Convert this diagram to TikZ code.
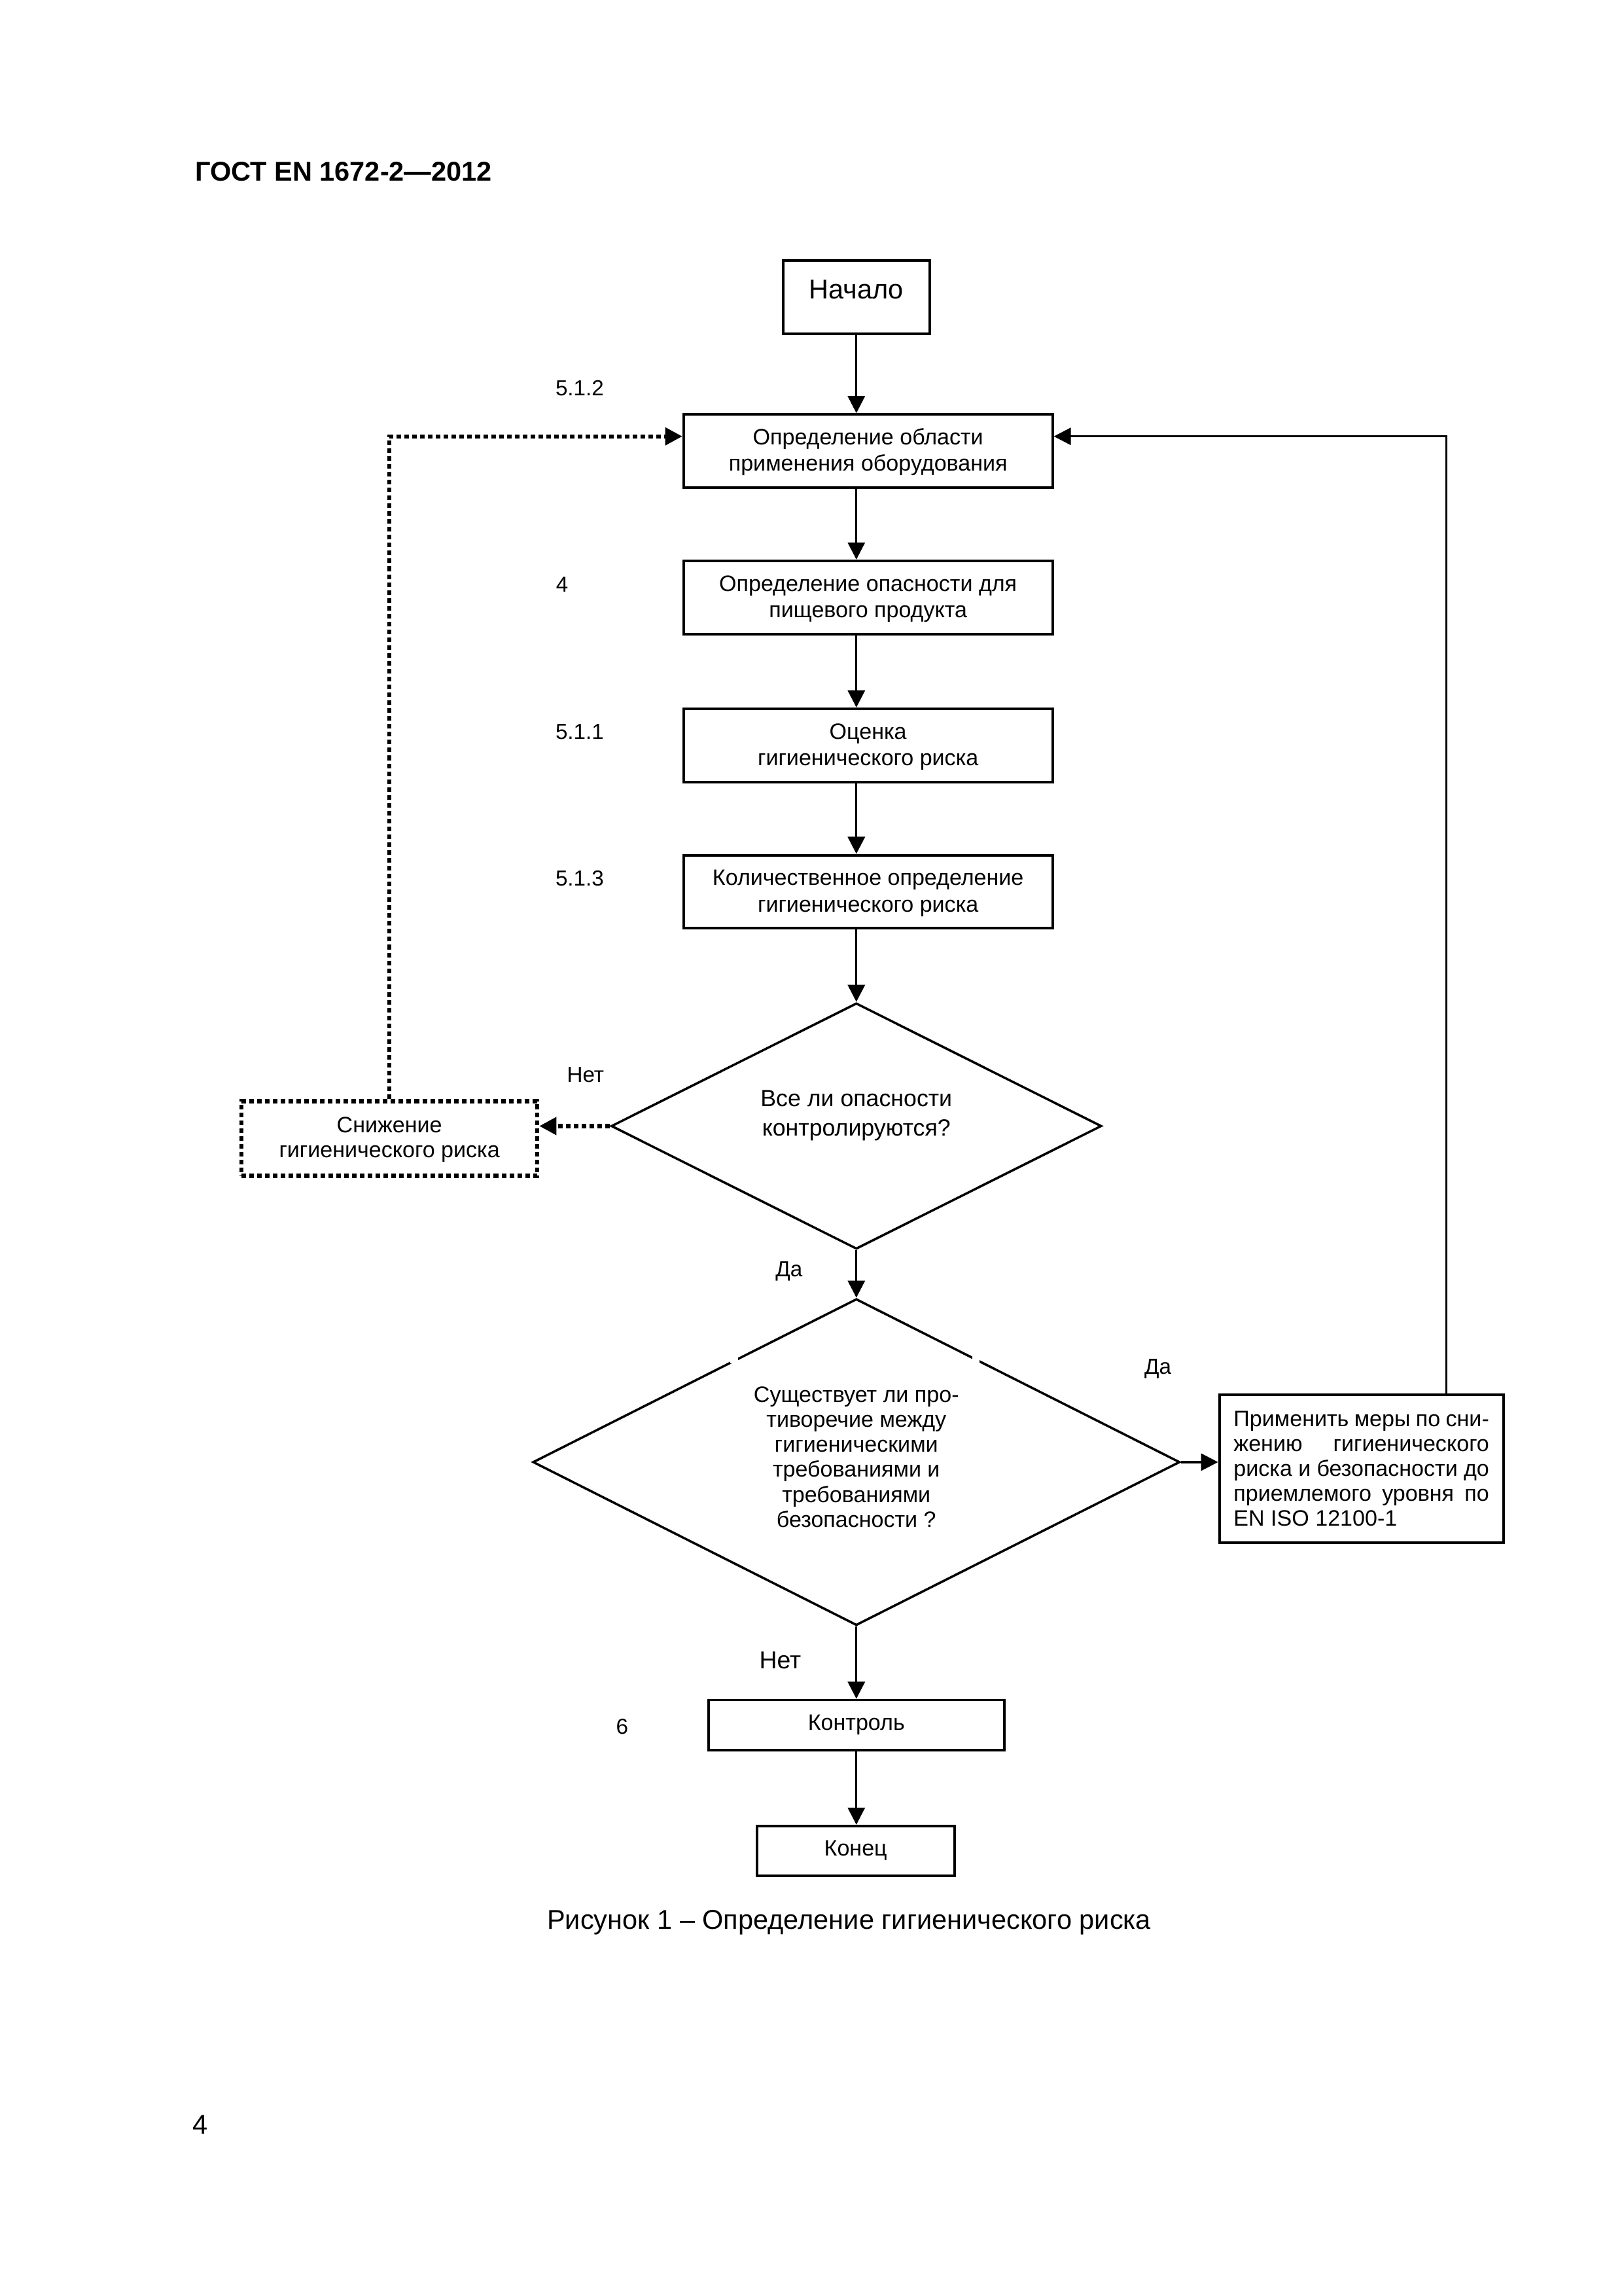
\documentclass[tikz,border=0pt]{standalone}
\usepackage{fontspec}
\setmainfont{Liberation Sans}
\usetikzlibrary{arrows.meta,shapes.geometric}
\newdimen\uu \uu=0.5388pt
\begin{document}
\begin{tikzpicture}[x=0.5388pt,y=-0.5388pt,
  box/.style={draw,line width=0.95pt,rectangle,inner sep=0pt,align=center,
    font=\fontsize{8.2}{9.7}\selectfont},
  dotbox/.style={draw,line width=1.5pt,dash pattern=on 1.7pt off 1.2pt,rectangle,inner sep=0pt,align=center,
    font=\fontsize{8.2}{9.2}\selectfont},
  dia/.style={draw,line width=0.85pt,diamond,inner sep=0pt},
  lbl/.style={inner sep=0pt,font=\fontsize{8}{9.6}\selectfont},
  conn/.style={line width=0.8pt,-{Triangle[length=6.3pt,width=6.3pt]}},
  dotconn/.style={line width=1.5pt,dash pattern=on 1.7pt off 1.2pt,-{Triangle[length=6.3pt,width=6.3pt]}},
  line/.style={line width=0.8pt}]
\useasboundingbox (0,0) rectangle (1109,1568);
\fill[white] (0,0) rectangle (1109,1568);

% header, caption, page number
\node[inner sep=0pt,anchor=west,font=\fontsize{10}{12}\selectfont\bfseries] (hdr) at (133,117) {ГОСТ EN 1672-2—2012};
\node[inner sep=0pt,font=\fontsize{10}{12}\selectfont] (cap) at (580,1313) {Рисунок 1 – Определение гигиенического риска};
\node[inner sep=0pt,font=\fontsize{10}{12}\selectfont] (pg) at (137,1451) {4};

\coordinate (ax) at (585,0);

% boxes
\node[box,minimum width=100\uu,minimum height=50\uu,font=\fontsize{10}{12}\selectfont] (start) at (585,203) {\raisebox{6pt}{Начало}};
\node[box,minimum width=252\uu,minimum height=50\uu] (b1) at (593,308) {\strut Определение области\\применения оборудования};
\node[box,minimum width=252\uu,minimum height=50\uu] (b2) at (593,408) {\strut Определение опасности для\\пищевого продукта};
\node[box,minimum width=252\uu,minimum height=50\uu] (b3) at (593,509) {\strut Оценка\\гигиенического риска};
\node[box,minimum width=252\uu,minimum height=50\uu] (b4) at (593,609) {\strut Количественное определение\\гигиенического риска};

% decision 1
\node[dia,minimum width=335\uu,minimum height=168\uu] (d1) at (585,769) {};
\node[inner sep=0pt,align=center,font=\fontsize{8.6}{10.8}\selectfont] (d1t) at (585,762) {Все ли опасности\\контролируются?};

% reduction (dotted)
\node[dotbox,minimum width=202\uu,minimum height=51\uu] (red) at (266,777.5) {\strut Снижение\\гигиенического риска};

% decision 2
\node[dia,minimum width=442\uu,minimum height=223\uu] (d2) at (585,998.5) {};
\node[inner sep=0pt,align=center,font=\fontsize{8.2}{9.2}\selectfont] (d2t) at (585,995) {Существует ли про-\\тиворечие между\\гигиеническими\\требованиями и\\требованиями\\безопасности ?};
\fill[white] (499,925.5) rectangle (504,931);
\fill[white] (664,925) rectangle (669,931);

% apply measures
\node[box,minimum width=194\uu,minimum height=101\uu,font=\fontsize{8.2}{9.2}\selectfont] (app) at (930,1003)
  {\parbox{94pt}{Применить\hfill меры\hfill по\hfill сни-\\жению\hfill гигиенического\\риска\hfill и\hfill безопасности\hfill до\\приемлемого\hfill уровня\hfill по\\EN ISO 12100-1}};

% control & end
\node[box,minimum width=202\uu,minimum height=34\uu] (ctrl) at (585,1178) {\strut Контроль};
\node[box,minimum width=135\uu,minimum height=34\uu] (fin) at (584.5,1264) {\strut Конец};

% side labels
\node[lbl] (l512) at (396,265) {5.1.2};
\node[lbl] (l4) at (384,399) {4};
\node[lbl] (l511) at (396,500) {5.1.1};
\node[lbl] (l513) at (396,600) {5.1.3};
\node[lbl] (l6) at (425,1179) {6};
\node[lbl] (no1) at (400,734) {Нет};
\node[lbl] (yes1) at (539,868) {Да};
\node[lbl] (yes2) at (791,935) {Да};
\node[lbl,font=\fontsize{9}{11}\selectfont] (no2) at (533,1134) {Нет};

% connectors
\draw[conn] (start.south) -- (b1.north -| start.south);
\draw[conn] (b1.south -| ax) -- (b2.north -| ax);
\draw[conn] (b2.south -| ax) -- (b3.north -| ax);
\draw[conn] (b3.south -| ax) -- (b4.north -| ax);
\draw[conn] (b4.south -| ax) -- (d1.north);
\draw[dotconn] (d1.west) -- (red.east |- d1.west);
\coordinate (lc) at (266,298);
\draw[dotconn] (red.north) -- (lc) -- (lc -| b1.west);
\draw[conn] (d1.south) -- (d2.north);
\draw[conn] (d2.east) -- (d2.east -| app.west);
\coordinate (rc) at (988,298);
\draw[conn] (rc |- app.north) -- (rc) -- (rc -| b1.east);
\draw[conn] (d2.south) -- (ctrl.north);
\draw[conn] (ctrl.south) -- (fin.north -| ctrl.south);
\end{tikzpicture}
\end{document}
